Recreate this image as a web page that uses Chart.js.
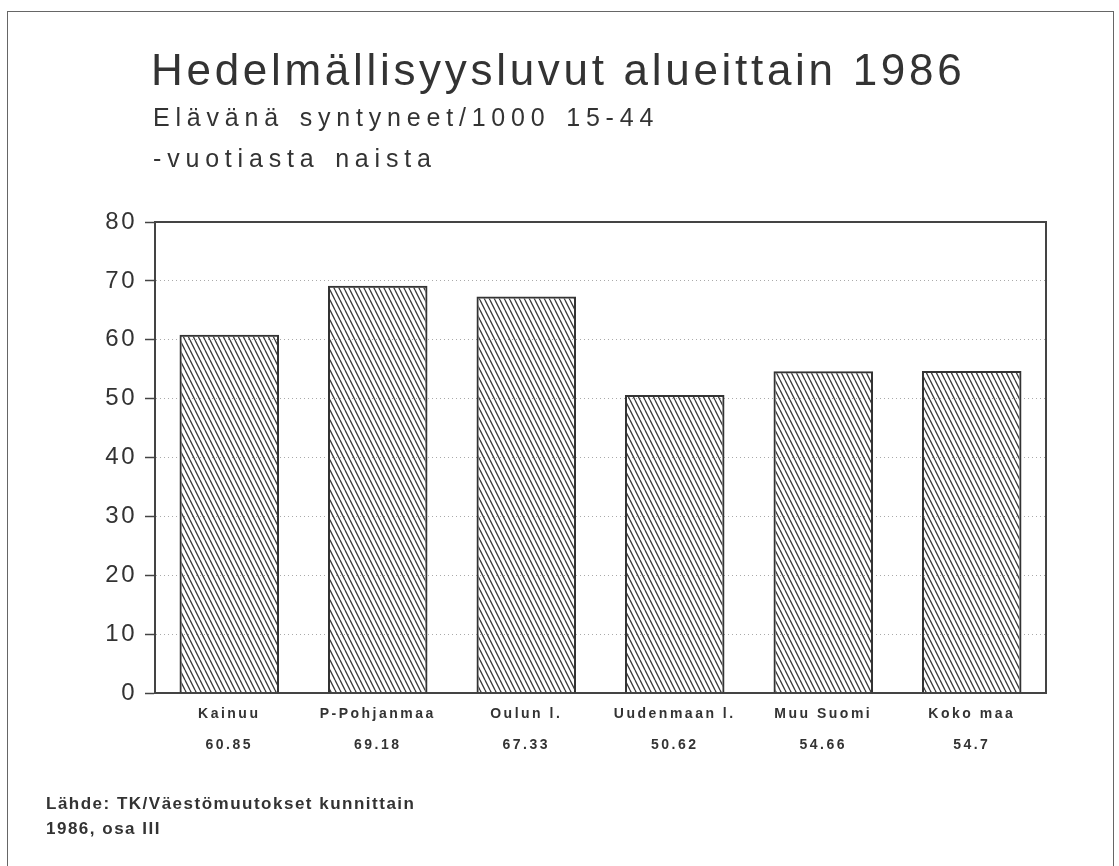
<!DOCTYPE html>
<html>
<head>
<meta charset="utf-8">
<script src="https://cdn.jsdelivr.net/npm/chart.js@4/dist/chart.umd.min.js"></script>
<style>
    body { margin: 0; background: #fff; }
    #page { position: relative; width: 1119px; height: 866px; overflow: hidden;
            font-family: "Liberation Sans", Arial, sans-serif; color: #333; }
    #frame { position: absolute; left: 7px; top: 11px; width: 1105px; height: 900px;
             border: 1.5px solid #666; }
    .txt { position: absolute; white-space: nowrap; }
    #title { left: 151px; top: 48px; font-size: 44px; line-height: 44px; letter-spacing: 3.7px; }
    #subtitle { left: 153px; top: 97px; font-size: 25px; line-height: 41px; letter-spacing: 5.8px; word-spacing: 3px; }
    #source { left: 46px; top: 791px; font-size: 17px; line-height: 25px; font-weight: bold; letter-spacing: 1.5px; }
    #chart { position: absolute; left: 0; top: 0; }
</style>
</head>
<body>
<div id="page">
    <div id="frame"></div>
    <canvas id="chart" width="1119" height="866"></canvas>
    <div class="txt" id="title">Hedelmällisyysluvut alueittain 1986</div>
    <div class="txt" id="subtitle">Elävänä syntyneet/1000 15-44<br>-vuotiasta naista</div>
    <div class="txt" id="source">Lähde: TK/Väestömuutokset kunnittain<br>1986, osa III</div>
</div>
<script>
    const categories = ["Kainuu", "P-Pohjanmaa", "Oulun l.", "Uudenmaan l.", "Muu Suomi", "Koko maa"];
    const values = [60.85, 69.18, 67.33, 50.62, 54.66, 54.7];
    const valueLabels = ["60.85", "69.18", "67.33", "50.62", "54.66", "54.7"];
    const yMin = 0;
    const yMax = 80;
    const yStep = 10;

    // diagonal hatching like the old plotter fill
    function makeHatch() {
        const c = document.createElement("canvas");
        c.width = 5;
        c.height = 10;
        const g = c.getContext("2d");
        g.strokeStyle = "#3a3a3a";
        g.lineWidth = 1.3;
        g.beginPath();
        g.moveTo(-5, 0); g.lineTo(0, 10);
        g.moveTo(0, 0); g.lineTo(5, 10);
        g.moveTo(5, 0); g.lineTo(10, 10);
        g.stroke();
        return g.createPattern(c, "repeat");
    }

    const spacing = {
        id: "spacing",
        beforeUpdate(chart) { chart.ctx.letterSpacing = "2.5px"; },
        beforeDraw(chart) { chart.ctx.letterSpacing = "2.5px"; }
    };

    // top and right edges of the plot box
    const plotFrame = {
        id: "plotFrame",
        afterDatasetsDraw(chart) {
            const { ctx, chartArea: a } = chart;
            ctx.save();
            ctx.strokeStyle = "#444";
            ctx.lineWidth = 2;
            ctx.beginPath();
            ctx.moveTo(a.left, a.top);
            ctx.lineTo(a.right, a.top);
            ctx.lineTo(a.right, a.bottom);
            ctx.stroke();
            ctx.restore();
        }
    };

    const ctx = document.getElementById("chart").getContext("2d");
    new Chart(ctx, {
        type: "bar",
        data: {
            labels: categories.map((c, i) => [c, valueLabels[i]]),
            datasets: [{
                data: values,
                backgroundColor: makeHatch(),
                borderColor: "#333",
                borderWidth: 2,
                barPercentage: 0.67,
                categoryPercentage: 1
            }]
        },
        options: {
            responsive: false,
            animation: false,
            layout: { padding: { left: 60, right: 73, top: 222, bottom: 0 } },
            plugins: {
                legend: { display: false },
                tooltip: { enabled: false }
            },
            scales: {
                x: {
                    grid: { display: false, drawTicks: false },
                    border: { display: true, color: "#444", width: 2 },
                    ticks: {
                        color: "#333",
                        padding: 6,
                        maxRotation: 0,
                        autoSkip: false,
                        font: { family: "'Liberation Sans', Arial, sans-serif", size: 14, weight: "bold", lineHeight: "31px" }
                    },
                    afterFit(scale) { scale.height = 173; }
                },
                y: {
                    min: yMin,
                    max: yMax,
                    grid: {
                        color: "#aaa",
                        lineWidth: 1,
                        tickLength: 10,
                        tickColor: "#444",
                        tickWidth: 1.5
                    },
                    border: { display: true, color: "#444", width: 2, dash: [1, 3] },
                    ticks: {
                        stepSize: yStep,
                        color: "#333",
                        padding: 8,
                        font: { family: "'Liberation Sans', Arial, sans-serif", size: 24 }
                    },
                    afterFit(scale) { scale.width = 95; }
                }
            }
        },
        plugins: [spacing, plotFrame]
    });
</script>
</body>
</html>
